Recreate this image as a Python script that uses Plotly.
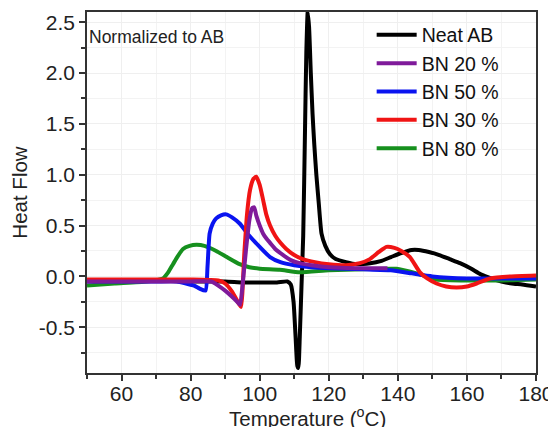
import plotly.graph_objects as go

# ---- data ----
names = ["Neat AB", "BN 20 %", "BN 50 %", "BN 30 %", "BN 80 %"]
colors = ["#000000", "#7f1a9a", "#0a14f0", "#f01414", "#16901e"]

t_ab = [50, 60, 70, 80, 90, 95, 100, 105, 108, 109, 109.8, 110.4, 110.9, 111.2, 111.6, 112.1,
        112.6, 113.1, 113.5, 113.9, 114.3, 114.8, 115.3, 115.8, 116.4, 117.1, 117.9, 119, 120.3,
        122, 125, 128, 132, 135, 138, 141, 144, 146, 149, 152, 155, 158, 161, 164, 167, 170,
        173, 176, 180]
v_ab = [-0.04, -0.04, -0.04, -0.05, -0.05, -0.06, -0.06, -0.06, -0.05, -0.08, -0.25, -0.6,
        -0.88, -0.9, -0.6, -0.1, 0.4, 1.4, 2.2, 2.6, 2.45, 2.0, 1.6, 1.3, 1.0, 0.72, 0.42,
        0.3, 0.22, 0.17, 0.14, 0.12, 0.13, 0.15, 0.19, 0.23, 0.26, 0.26, 0.24, 0.21, 0.17,
        0.13, 0.08, 0.02, -0.02, -0.05, -0.07, -0.08, -0.1]

t_20 = [50, 60, 70, 80, 86, 88, 90, 92, 93.5, 94.3, 95, 96, 97, 97.8, 98.4, 99, 100, 101,
        102, 103, 104.5, 106.8, 109, 111.6, 115, 120, 128, 137]
v_20 = [-0.05, -0.05, -0.05, -0.05, -0.05, -0.09, -0.14, -0.2, -0.25, -0.28, -0.1, 0.25,
        0.55, 0.67, 0.68, 0.6, 0.5, 0.42, 0.37, 0.33, 0.27, 0.21, 0.16, 0.13, 0.11, 0.09,
        0.08, 0.08]

t_50 = [50, 60, 70, 76, 78.7, 81, 82.6, 84.3, 84.9, 85.5, 86.4, 87.4, 88.8, 90.3, 92,
        94.2, 97, 100, 103, 106, 110, 115, 120, 130, 138, 144, 150, 160, 170, 180]
v_50 = [-0.05, -0.05, -0.05, -0.05, -0.07, -0.09, -0.12, -0.14, 0.1, 0.42, 0.52, 0.57,
        0.6, 0.61, 0.58, 0.52, 0.4, 0.29, 0.19, 0.14, 0.11, 0.09, 0.08, 0.07, 0.06, 0.03,
        0.0, -0.02, -0.02, -0.02]

t_30 = [50, 60, 70, 80, 88, 90, 92, 94, 94.6, 95.5, 96.3, 97.2, 98.2, 99, 100, 101, 101.9,
        103, 104.5, 106, 107.7, 110, 112.5, 116, 120, 125, 129, 131.9, 134.5, 136.7, 139,
        141, 143.5, 146.4, 148.5, 151.2, 154, 157, 160, 162.8, 166.7, 172.5, 180]
v_30 = [-0.03, -0.03, -0.03, -0.03, -0.04, -0.07, -0.15, -0.27, -0.3, 0.2, 0.6, 0.85, 0.96,
        0.98, 0.9, 0.75, 0.61, 0.5, 0.4, 0.33, 0.27, 0.21, 0.17, 0.14, 0.12, 0.11, 0.13, 0.17,
        0.24, 0.29, 0.28, 0.25, 0.19, 0.04, -0.02, -0.07, -0.1, -0.11, -0.1, -0.07, -0.02,
        0.0, 0.01]

t_80 = [50, 58, 67.2, 72, 73.5, 74.9, 76.3, 77.8, 79.7, 81.7, 84, 87.4, 90.5, 94.2, 97,
        100, 105.8, 111.6, 120, 130, 139.6, 145.4, 151.2, 160.9, 170.5, 180]
v_80 = [-0.09, -0.07, -0.05, -0.02, 0.04, 0.12, 0.2, 0.27, 0.3, 0.31, 0.3, 0.25, 0.19, 0.12,
        0.09, 0.075, 0.065, 0.04, 0.06, 0.07, 0.075, 0.03, -0.03, -0.04, -0.04, -0.03]

x_ticks = [60, 80, 100, 120, 140, 160, 180]
y_ticks = [-0.5, 0.0, 0.5, 1.0, 1.5, 2.0, 2.5]
y_tick_text = ["-0.5", "0.0", "0.5", "1.0", "1.5", "2.0", "2.5"]
x_title = "Temperature (<sup>o</sup>C)"
y_title = "Heat Flow"

series = {
    "Neat AB": (t_ab, v_ab),
    "BN 20 %": (t_20, v_20),
    "BN 50 %": (t_50, v_50),
    "BN 30 %": (t_30, v_30),
    "BN 80 %": (t_80, v_80),
}
draw_order = ["Neat AB", "BN 80 %", "BN 50 %", "BN 30 %", "BN 20 %"]

FONT = "Liberation Sans, Arial, sans-serif"

fig = go.Figure()
for nm in draw_order:
    i = names.index(nm)
    xs, ys = series[nm]
    fig.add_trace(go.Scatter(
        x=xs, y=ys, mode="lines", name=nm, legendrank=i + 1,
        line=dict(color=colors[i], width=4, shape="spline", smoothing=0.5),
    ))

axis_common = dict(
    showline=True, linecolor="#333333", linewidth=1.5, mirror=True,
    ticks="outside", ticklen=6, tickwidth=1.5, tickcolor="#333333",
    showgrid=True, gridcolor="#efefef", gridwidth=1, zeroline=False,
    tickfont=dict(family=FONT, size=21, color="#222222"),
    automargin=False,
)

fig.update_xaxes(
    range=[50, 180], tickvals=x_ticks, ticklabeloverflow="allow", ticklabelstandoff=-5,
    minor=dict(dtick=10, ticks="outside", ticklen=4, tickcolor="#333333", showgrid=True,
               gridcolor="#f3f3f3"),
    **axis_common,
)
fig.update_yaxes(
    range=[-0.95, 2.6], tickvals=y_ticks, ticktext=y_tick_text,
    minor=dict(dtick=0.25, tick0=0, ticks="outside", ticklen=4, tickcolor="#333333",
               showgrid=True, gridcolor="#f3f3f3"),
    title=dict(text=y_title, font=dict(family=FONT, size=20.5, color="#222222"), standoff=6),
    **axis_common,
)

# x-axis title placed explicitly below the tick labels
fig.add_annotation(
    text=x_title, xref="paper", yref="paper", x=0.492, y=-0.122,
    xanchor="center", yanchor="middle", showarrow=False,
    font=dict(family=FONT, size=20.5, color="#222222"),
)

fig.add_annotation(
    text="Normalized to AB", xref="paper", yref="paper", x=0.0, y=0.931,
    xanchor="left", yanchor="middle", showarrow=False,
    font=dict(family=FONT, size=17.5, color="#222222"),
)

fig.update_layout(
    width=540, height=419,
    margin=dict(l=79, r=12, t=4, b=54),
    paper_bgcolor="white", plot_bgcolor="white",
    showlegend=True,
    legend=dict(
        x=0.634, y=0.99, xanchor="left", yanchor="top",
        bgcolor="rgba(0,0,0,0)", borderwidth=0,
        font=dict(family=FONT, size=19.5, color="#111111"),
        tracegroupgap=0, itemwidth=40,
    ),
)

fig.write_html("out.html")
